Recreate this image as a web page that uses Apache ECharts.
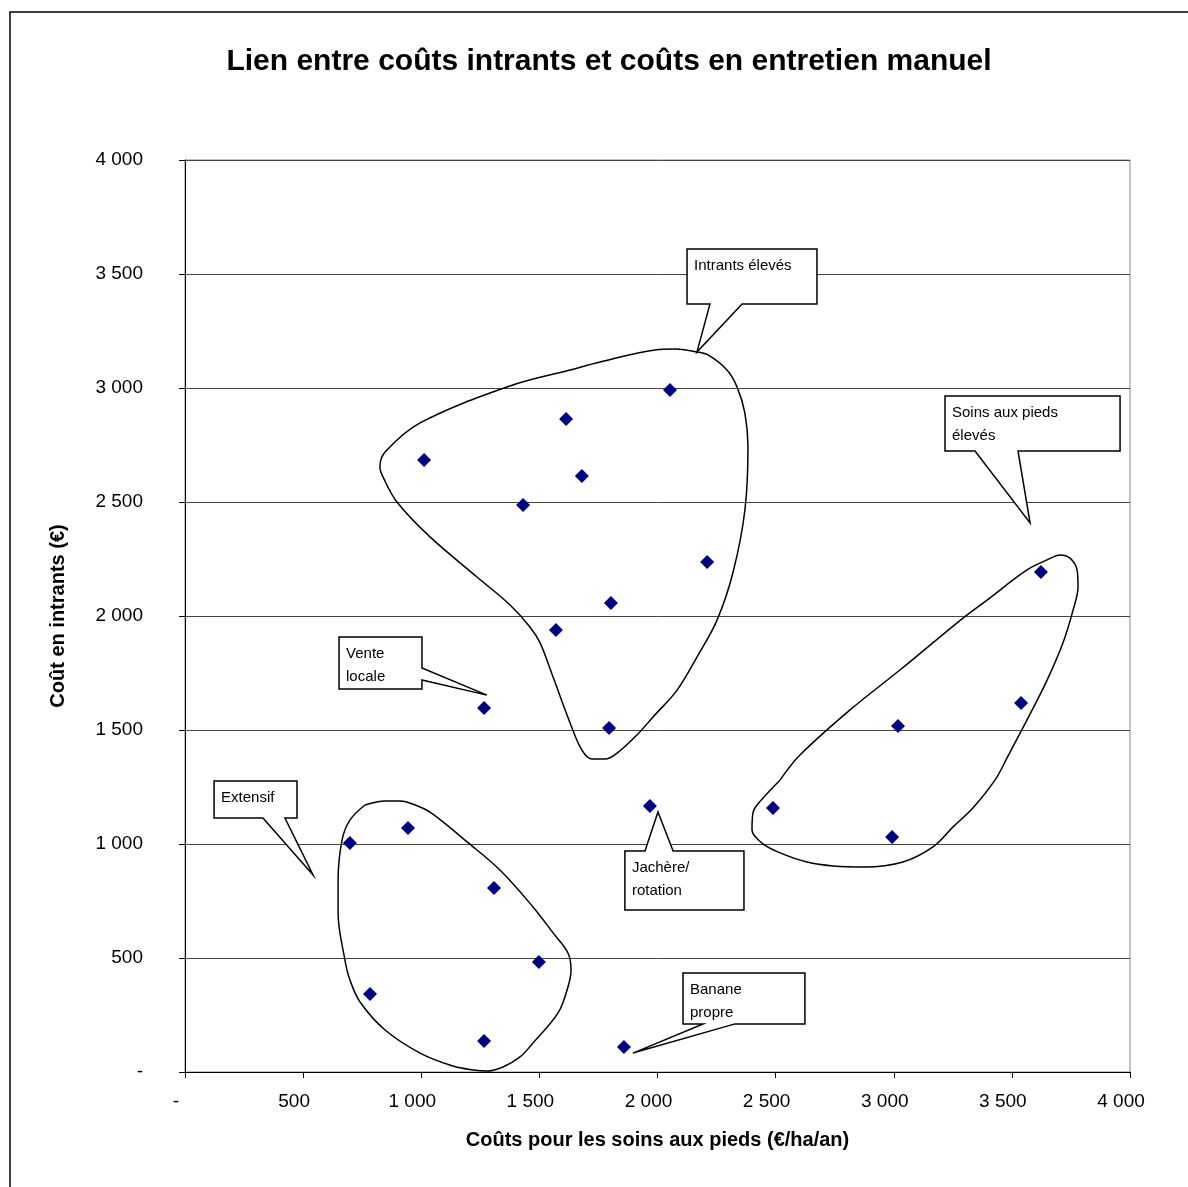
<!DOCTYPE html>
<html>
<head>
<meta charset="utf-8">
<script src="https://cdn.jsdelivr.net/npm/echarts@6/dist/echarts.min.js"></script>
<style>html,body{margin:0;padding:0;background:#fff;}#c{width:1188px;height:1187px;}</style>
</head>
<body>
<div id="c"></div>
<script>
// ---- Data ----
const titleText = 'Lien entre coûts intrants et coûts en entretien manuel';
const xAxisName = 'Coûts pour les soins aux pieds (€/ha/an)';
const yAxisName = 'Coût en intrants (€)';
const xTicks = [0, 500, 1000, 1500, 2000, 2500, 3000, 3500, 4000];
const yTicks = [0, 500, 1000, 1500, 2000, 2500, 3000, 3500, 4000];

// farm points: [soins aux pieds, intrants]
const footCare = [1012, 1613, 2053, 1680, 1431, 2210, 1803, 1570, 1266, 1795, 698, 944, 1308, 1498, 783, 1266, 1858, 1968, 2489, 2993, 3018, 3539, 3623];
const inputs   = [2684, 2864, 2991, 2614, 2487, 2237, 2057, 1939, 1596, 1509, 1004, 1070, 807, 482, 342, 136, 110, 1167, 1158, 1031, 1518, 1618, 2193];

// group outlines (hand-drawn shapes), in data units
const blobIntrants = [[2167,3158],[2074,3171],[1989,3167],[1757,3114],[1630,3079],[1376,3009],[995,2847],[847,2719],[825,2654],[838,2610],[897,2500],[1037,2347],[1236,2171],[1376,2048],[1460,1952],[1503,1882],[1558,1732],[1630,1531],[1680,1412],[1723,1373],[1778,1373],[1829,1399],[1913,1478],[1981,1557],[2083,1675],[2167,1820],[2252,1982],[2320,2193],[2370,2465],[2383,2741],[2370,2890],[2337,3004],[2294,3079],[2214,3145],[2167,3158]];
const blobExtensif = [[762,1171],[847,1189],[910,1189],[952,1180],[1037,1140],[1194,1009],[1333,886],[1473,724],[1558,610],[1621,522],[1634,447],[1621,373],[1579,259],[1473,127],[1418,66],[1346,22],[1278,4],[1219,9],[1134,26],[995,83],[847,184],[741,307],[698,404],[677,491],[648,697],[648,842],[665,1018],[698,1105],[762,1171]];
const blobSoins = [[2519,1281],[2421,1171],[2404,1136],[2400,1061],[2442,1004],[2519,961],[2633,921],[2743,904],[2878,899],[3039,921],[3166,987],[3251,1075],[3335,1158],[3429,1281],[3479,1377],[3564,1544],[3649,1719],[3716,1882],[3759,2026],[3780,2127],[3776,2202],[3746,2254],[3704,2268],[3649,2246],[3564,2202],[3395,2070],[3293,1991],[3026,1763],[2815,1588],[2603,1390],[2519,1281]];

// callouts: label lines, box [x1, x2, yTop, yBottom], pointer [base1, base2, tip] (data units)
const calloutLabels = [['Intrants élevés'], ['Soins aux pieds', 'élevés'], ['Vente', 'locale'], ['Extensif'], ['Jachère/', 'rotation'], ['Banane', 'propre']];
const calloutBoxes = [[2125,2675,3610,3368],[3217,3958,2965,2724],[652,1003,1908,1680],[123,474,1276,1114],[1862,2366,969,711],[2108,2624,434,211]];
const calloutPointers = [
  [[2222,3368],[2358,3368],[2167,3158]],
  [[3344,2724],[3526,2724],[3577,2408]],
  [[1003,1772],[1003,1719],[1278,1653]],
  [[330,1114],[423,1114],[542,864]],
  [[1947,969],[2066,969],[2002,1140]],
  [[2193,211],[2328,211],[1896,83]]
];
const calloutEdge = ['bottom','bottom','right','bottom','top','bottom'];

const fmt = v => v === 0 ? '-' : (v >= 1000 ? Math.floor(v/1000) + ' ' + String(v % 1000).padStart(3, '0') : String(v));

const FONT = '"Liberation Sans", Arial, sans-serif';
const chart = echarts.init(document.getElementById('c'), null, {renderer: 'canvas'});

function calloutPath(i, api) {
  const b = calloutBoxes[i], p = calloutPointers[i];
  const c = (x, y) => api.coord([x, y]);
  const TL = c(b[0], b[2]), TR = c(b[1], b[2]), BR = c(b[1], b[3]), BL = c(b[0], b[3]);
  const p1 = c(p[0][0], p[0][1]), p2 = c(p[1][0], p[1][1]), tip = c(p[2][0], p[2][1]);
  const e = calloutEdge[i];
  if (e === 'bottom') return [TL, TR, BR, p2, tip, p1, BL];
  if (e === 'top') return [TL, p1, tip, p2, TR, BR, BL];
  if (e === 'right') return [TL, TR, p1, tip, p2, BR, BL];
  return [TL, TR, BR, BL];
}

const option = {
  backgroundColor: '#fff',
  animation: false,
  title: {
    text: titleText,
    left: 604, top: 42, textAlign: 'center',
    textStyle: {fontFamily: FONT, fontWeight: 'bold', fontSize: 30, color: '#000'}
  },
  grid: {left: 185, right: 58, top: 160, bottom: 115, show: true, borderColor: '#888', borderWidth: 1},
  xAxis: {
    type: 'value', min: 0, max: 4000, interval: 500,
    name: xAxisName, nameLocation: 'middle', nameGap: 58,
    nameTextStyle: {fontFamily: FONT, fontWeight: 'bold', fontSize: 20, color: '#000'},
    axisLine: {lineStyle: {color: '#000', width: 1}},
    axisTick: {show: true, length: 6, lineStyle: {color: '#000'}},
    axisLabel: {fontFamily: FONT, fontSize: 19, color: '#000', margin: 20, formatter: fmt, padding: [0, 18, 0, 0]},
    splitLine: {show: false}
  },
  yAxis: {
    type: 'value', min: 0, max: 4000, interval: 500,
    name: yAxisName, nameLocation: 'middle', nameGap: 117, nameRotate: 90,
    nameTextStyle: {fontFamily: FONT, fontWeight: 'bold', fontSize: 20, color: '#000'},
    axisLine: {show: true, lineStyle: {color: '#000', width: 1}},
    axisTick: {show: true, length: 6, lineStyle: {color: '#000'}},
    axisLabel: {fontFamily: FONT, fontSize: 19, color: '#000', margin: 42, formatter: fmt},
    splitLine: {show: true, lineStyle: {color: '#444', width: 1}}
  },
  graphic: [{
    type: 'rect', shape: {x: 10, y: 12, width: 1300, height: 1300},
    style: {fill: 'none', stroke: '#000', lineWidth: 1.5}, silent: true, z: -10
  }],
  series: [
    {type: 'line', data: blobIntrants, smooth: 0.35, showSymbol: false, symbol: 'none', lineStyle: {color: '#000', width: 1.5}, z: 2},
    {type: 'line', data: blobExtensif, smooth: 0.35, showSymbol: false, symbol: 'none', lineStyle: {color: '#000', width: 1.5}, z: 2},
    {type: 'line', data: blobSoins, smooth: 0.35, showSymbol: false, symbol: 'none', lineStyle: {color: '#000', width: 1.5}, z: 2},
    {
      type: 'custom', z: 4, clip: false,
      data: calloutLabels.map((_, i) => [i]),
      renderItem: (params, api) => {
        const i = api.value(0);
        const pts = calloutPath(i, api);
        const tl = api.coord([calloutBoxes[i][0], calloutBoxes[i][2]]);
        return {
          type: 'group',
          children: [
            {type: 'polygon', shape: {points: pts}, style: {fill: '#fff', stroke: '#000', lineWidth: 1.5}},
            {type: 'text', x: tl[0] + 7, y: tl[1] + 5,
             style: {text: calloutLabels[i].join('\n'), fontFamily: FONT, fontSize: 15, lineHeight: 23, fill: '#000'}}
          ]
        };
      }
    },
    {
      type: 'scatter', z: 5,
      data: footCare.map((x, i) => [x, inputs[i]]),
      symbol: 'diamond', symbolSize: 14,
      itemStyle: {color: '#000080', opacity: 1}
    }
  ]
};
chart.setOption(option);
</script>
</body>
</html>
